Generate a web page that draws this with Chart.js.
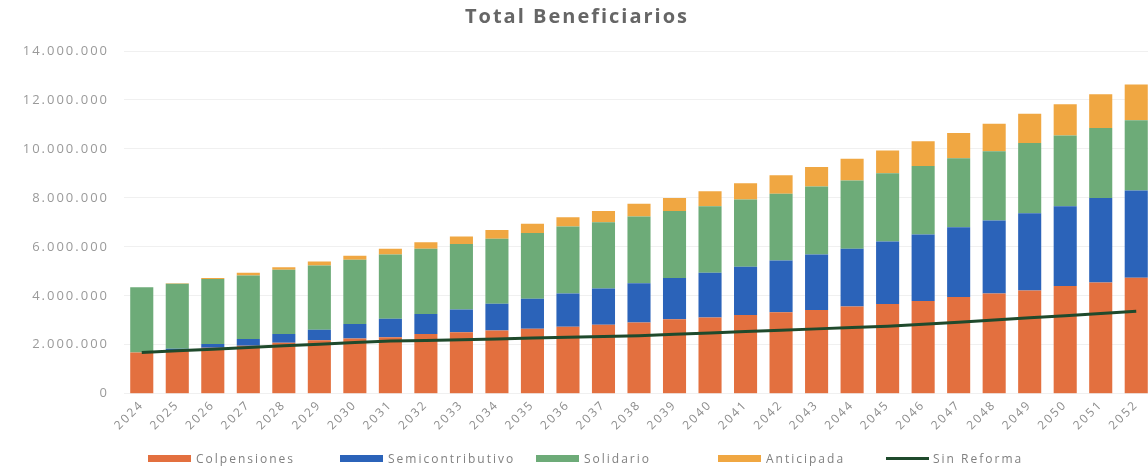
<!DOCTYPE html>
<html>
<head>
<meta charset="utf-8">
<title>Total Beneficiarios</title>
<script src="https://cdn.jsdelivr.net/npm/chart.js@4.4.1/dist/chart.umd.min.js"></script>
<style>
    body { margin: 0; background: #ffffff; overflow: hidden; }
    #wrap { width: 1174px; height: 469px; position: relative; }
    #legend { position: absolute; left: 0; top: 451px; height: 14px; width: 1174px; }
    .legend-item {
        position: absolute; top: 0; height: 14px; display: flex; align-items: center;
        font-family: 'Open Sans', sans-serif; font-size: 12px; color: #808080;
        letter-spacing: 2px; white-space: nowrap;
    }
    .legend-box { display: inline-block; width: 43px; height: 7px; margin-right: 5px; }
    .legend-line { display: inline-block; width: 43px; height: 3px; margin-right: 4px; }
</style>
</head>
<body>
<div id="wrap">
    <canvas id="beneficiarios-chart"></canvas>
    <div id="legend"></div>
</div>
<script>
// Years on the x axis
const years = ['2024', '2025', '2026', '2027', '2028', '2029', '2030', '2031', '2032', '2033',
    '2034', '2035', '2036', '2037', '2038', '2039', '2040', '2041', '2042', '2043',
    '2044', '2045', '2046', '2047', '2048', '2049', '2050', '2051', '2052'];

// Stacked bar series (beneficiaries)
const colpensiones = [1690000, 1780000, 1880000, 1960000, 2080000, 2190000, 2260000, 2310000, 2440000, 2510000,
    2580000, 2660000, 2740000, 2820000, 2910000, 3040000, 3110000, 3220000, 3330000, 3420000,
    3560000, 3670000, 3790000, 3950000, 4090000, 4220000, 4400000, 4540000, 4740000];
const semicontributivo = [0, 60000, 150000, 280000, 360000, 420000, 590000, 750000, 820000, 930000,
    1100000, 1220000, 1350000, 1480000, 1600000, 1690000, 1830000, 1970000, 2110000, 2270000,
    2360000, 2550000, 2710000, 2850000, 2990000, 3150000, 3260000, 3460000, 3560000];
const solidario = [2660000, 2650000, 2660000, 2590000, 2620000, 2630000, 2620000, 2630000, 2660000, 2680000,
    2650000, 2690000, 2740000, 2710000, 2730000, 2730000, 2720000, 2740000, 2730000, 2780000,
    2790000, 2790000, 2800000, 2820000, 2830000, 2870000, 2890000, 2850000, 2870000];
const anticipada = [0, 20000, 40000, 110000, 110000, 160000, 170000, 230000, 270000, 300000,
    360000, 370000, 380000, 450000, 520000, 540000, 610000, 670000, 750000, 790000,
    890000, 930000, 1010000, 1030000, 1120000, 1200000, 1270000, 1380000, 1460000];

// Line series: scenario without the reform
const sinReforma = [1690000, 1760000, 1820000, 1890000, 1960000, 2020000, 2090000, 2150000, 2180000, 2210000,
    2240000, 2280000, 2310000, 2340000, 2370000, 2430000, 2480000, 2540000, 2590000, 2650000,
    2710000, 2760000, 2840000, 2920000, 3010000, 3100000, 3190000, 3280000, 3370000];

// y axis ticks
const yTicks = [0, 2000000, 4000000, 6000000, 8000000, 10000000, 12000000, 14000000];

const colors = {
    colpensiones: '#e3703f',
    semicontributivo: '#2b63b9',
    solidario: '#6dab78',
    anticipada: '#f0a742',
    sinReforma: '#1f4a2c'
};

// left edge of each legend entry
const legendPositions = [148, 340, 536, 718, 886];

// thousands separator with dots: 14.000.000
function formatNumber(value) {
    return String(value).replace(/\B(?=(\d{3})+(?!\d))/g, '.');
}

function barDataset(label, data, color) {
    return {
        type: 'bar',
        label: label,
        data: data,
        backgroundColor: color,
        borderWidth: 0,
        stack: 'total',
        barPercentage: 0.65,
        categoryPercentage: 1.0,
        order: 2
    };
}

// the original text is drawn quite wide, so space the canvas letters a bit
const letterSpacing = {
    id: 'letterSpacing',
    beforeUpdate(chart) { chart.ctx.letterSpacing = '2px'; },
    beforeLayout(chart) { chart.ctx.letterSpacing = '2px'; },
    beforeDraw(chart) { chart.ctx.letterSpacing = '2px'; }
};

const chart = new Chart('beneficiarios-chart', {
    data: {
        labels: years,
        datasets: [
            barDataset('Colpensiones', colpensiones, colors.colpensiones),
            barDataset('Semicontributivo', semicontributivo, colors.semicontributivo),
            barDataset('Solidario', solidario, colors.solidario),
            barDataset('Anticipada', anticipada, colors.anticipada),
            {
                type: 'line',
                label: 'Sin Reforma',
                data: sinReforma,
                borderColor: colors.sinReforma,
                backgroundColor: colors.sinReforma,
                borderWidth: 3,
                pointRadius: 0,
                tension: 0,
                fill: false,
                order: 1
            }
        ]
    },
    options: {
        responsive: true,
        maintainAspectRatio: false,
        animation: false,
        layout: { padding: { left: 0, right: 20, top: 0, bottom: 32 } },
        plugins: {
            title: {
                display: true,
                text: 'Total Beneficiarios',
                color: '#666666',
                font: { family: 'Open Sans', size: 20, weight: 'bold' },
                padding: { top: 5, bottom: 22 }
            },
            legend: { display: false },
            tooltip: { enabled: false }
        },
        scales: {
            x: {
                stacked: true,
                grid: { display: false, drawTicks: false },
                border: { display: false },
                ticks: {
                    minRotation: 45,
                    maxRotation: 45,
                    autoSkip: false,
                    padding: 4,
                    color: '#8c8c8c',
                    font: { family: 'Open Sans', size: 12 }
                }
            },
            y: {
                stacked: true,
                min: 0,
                max: 14000000,
                afterBuildTicks: function (scale) {
                    scale.ticks = yTicks.map(v => ({ value: v }));
                },
                grid: { color: 'rgba(0,0,0,0.06)', drawTicks: false },
                border: { display: false },
                ticks: {
                    padding: 15,
                    color: '#9a9a9a',
                    font: { family: 'Open Sans', size: 13 },
                    callback: function (value) {
                        return formatNumber(value);
                    }
                },
                afterFit: function (scale) {
                    scale.width = 124;
                }
            }
        }
    },
    plugins: [letterSpacing]
});

// Build the legend from the chart's datasets
const legend = document.getElementById('legend');
chart.data.datasets.forEach((ds, i) => {
    const item = document.createElement('div');
    item.className = 'legend-item';
    item.style.left = legendPositions[i] + 'px';
    const mark = document.createElement('span');
    mark.className = ds.type === 'line' ? 'legend-line' : 'legend-box';
    mark.style.background = ds.type === 'line' ? ds.borderColor : ds.backgroundColor;
    item.appendChild(mark);
    item.appendChild(document.createTextNode(ds.label));
    legend.appendChild(item);
});
</script>
</body>
</html>
